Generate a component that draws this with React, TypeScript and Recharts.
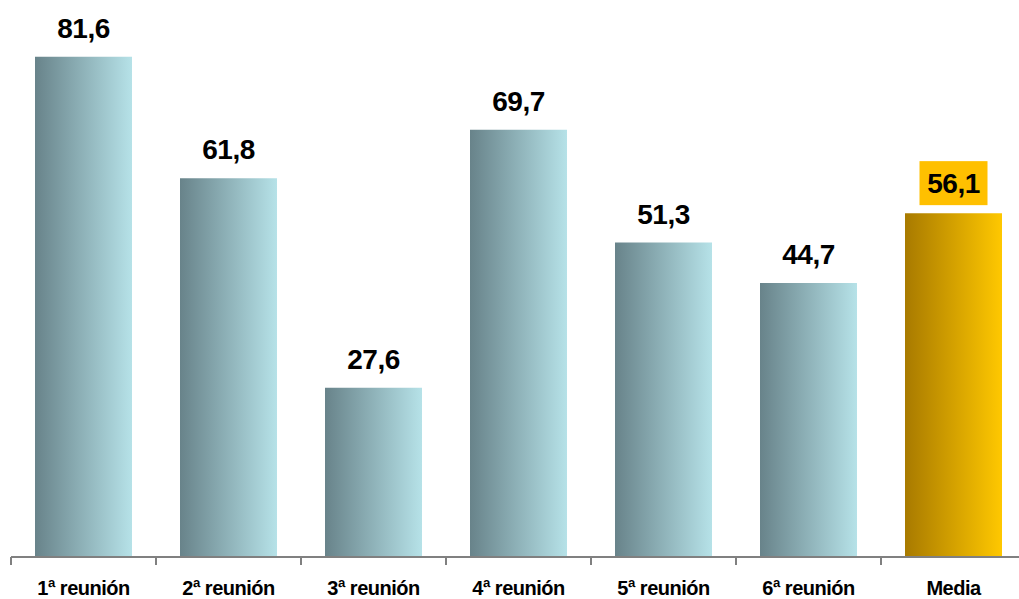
import { BarChart, Bar, XAxis, YAxis, Cell, LabelList } from 'recharts';

const categories = ['1ª reunión', '2ª reunión', '3ª reunión', '4ª reunión', '5ª reunión', '6ª reunión', 'Media'];
const values = [81.6, 61.8, 27.6, 69.7, 51.3, 44.7, 56.1];
const highlighted = ['Media'];

const data = categories.map((name, i) => ({ name, value: values[i] }));

const FONT = '"Liberation Sans", Arial, sans-serif';
const fmt = (v: number) => v.toFixed(1).replace('.', ',');

const BAND = 1015 / categories.length;

function CategoryTick(props: any) {
  const { x, y, payload } = props;
  return (
    <g>
      <line x1={x - BAND / 2} y1={y - 8} x2={x - BAND / 2} y2={y} stroke="#808080" strokeWidth={2} />
      <text
        x={x}
        y={y + 30}
        textAnchor="middle"
        fontFamily={FONT}
        fontWeight="bold"
        fontSize={20}
        letterSpacing={-0.5}
        fill="#000"
      >
        {payload.value}
      </text>
    </g>
  );
}

function ValueLabel(props: any) {
  const { x, y, width, value, index } = props;
  const cx = x + width / 2;
  const isHi = highlighted.includes(categories[index]);
  const label = (
    <text
      x={cx}
      y={y - (isHi ? 20 : 19)}
      textAnchor="middle"
      fontFamily={FONT}
      fontWeight="bold"
      fontSize={28}
      letterSpacing={-0.5}
      fill="#000"
    >
      {fmt(value)}
    </text>
  );
  if (isHi) {
    return (
      <g>
        <rect x={cx - 34} y={y - 52} width={68} height={44} fill="#ffc000" />
        {label}
      </g>
    );
  }
  return label;
}

export default function App() {
  return (
    <div style={{ position: 'absolute', left: 0, top: 0, width: 1019, height: 599, overflow: 'hidden' }}>
      <BarChart width={1030} height={599} data={data} margin={{ top: 36, right: 4, left: 11, bottom: 12 }}>
        <defs>
          <linearGradient id="teal" x1="0" y1="0" x2="1" y2="0">
            <stop offset="0%" stopColor="#68838a" />
            <stop offset="100%" stopColor="#b6e2e8" />
          </linearGradient>
          <linearGradient id="gold" x1="0" y1="0" x2="1" y2="0">
            <stop offset="0%" stopColor="#a87a00" />
            <stop offset="100%" stopColor="#ffc800" />
          </linearGradient>
        </defs>
        <XAxis
          dataKey="name"
          height={30}
          axisLine={{ stroke: '#808080', strokeWidth: 2 }}
          tickLine={false}
          tick={<CategoryTick />}
          interval={0}
        />
        <YAxis hide domain={[0, 85]} />
        <Bar dataKey="value" barSize={97} isAnimationActive={false}>
          {data.map((d) => (
            <Cell key={d.name} fill={highlighted.includes(d.name) ? 'url(#gold)' : 'url(#teal)'} />
          ))}
          <LabelList dataKey="value" content={<ValueLabel />} />
        </Bar>
      </BarChart>
    </div>
  );
}
